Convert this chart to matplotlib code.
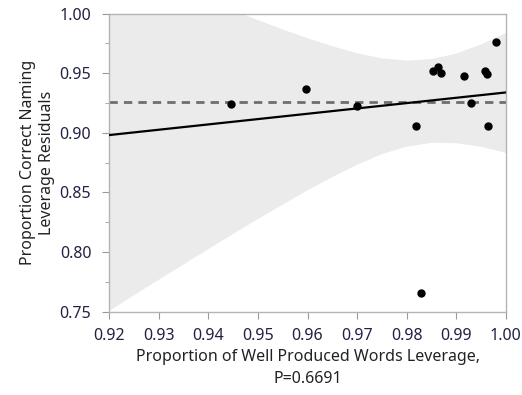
import matplotlib
matplotlib.use('Agg')
import matplotlib.pyplot as plt
from matplotlib.ticker import MultipleLocator

# Leverage plot values
x_vals = [0.9446, 0.9596, 0.9700, 0.9818, 0.9830, 0.9854, 0.9863, 0.9869,
          0.9915, 0.9929, 0.9958, 0.9962, 0.9964, 0.9980]
y_vals = [0.9240, 0.9369, 0.9224, 0.9053, 0.7654, 0.9517, 0.9553, 0.9503,
          0.9475, 0.9246, 0.9517, 0.9489, 0.9053, 0.9757]

# Fit line and mean line
fit_x = [0.92, 1.00]
fit_y = [0.8981, 0.9338]
mean_y = 0.9257

# Confidence band edges
band_x = [0.920, 0.925, 0.930, 0.935, 0.940, 0.945, 0.950, 0.955, 0.960,
          0.965, 0.970, 0.975, 0.980, 0.985, 0.990, 0.995, 1.000]
band_lo = [0.7514, 0.7645, 0.7775, 0.7903, 0.8032, 0.8159, 0.8283, 0.8405, 0.8524,
           0.8635, 0.8738, 0.8826, 0.8889, 0.8920, 0.8917, 0.8886, 0.8835]
band_hi = [1.0448, 1.0363, 1.0277, 1.0193, 1.0110, 1.0028, 0.9947, 0.9869, 0.9796,
           0.9729, 0.9670, 0.9628, 0.9609, 0.9622, 0.9669, 0.9746, 0.9841]

plt.rcParams['font.family'] = ['Noto Sans', 'DejaVu Sans']

fig = plt.figure(figsize=(5.22, 3.95), dpi=100)
ax = fig.add_axes([0.2094, 0.2109, 0.7594, 0.7549])

ax.fill_between(band_x, band_lo, band_hi, color='#ebebeb', linewidth=0, zorder=1)
ax.axhline(mean_y, color='#6e6e6e', linestyle=(0, (3, 2.2)), linewidth=2, zorder=2)
ax.plot(fit_x, fit_y, color='black', linewidth=1.6, zorder=3)
ax.plot(x_vals, y_vals, 'o', color='black', markersize=5, zorder=4)

ax.set_xlim(0.92, 1.00)
ax.set_ylim(0.75, 1.00)
ax.xaxis.set_major_locator(MultipleLocator(0.01))
ax.yaxis.set_major_locator(MultipleLocator(0.05))
ax.yaxis.set_minor_locator(MultipleLocator(0.025))
ax.xaxis.set_major_formatter(plt.FormatStrFormatter('%.2f'))
ax.yaxis.set_major_formatter(plt.FormatStrFormatter('%.2f'))

for s in ax.spines.values():
    s.set_color('#b4b4b4')
    s.set_linewidth(1)
ax.tick_params(which='both', color='#9a9a9a', labelsize=11.5, labelcolor='#222244')
ax.tick_params(which='major', length=5)
ax.tick_params(which='minor', length=3)
ax.tick_params(axis='x', pad=7)
ax.tick_params(axis='y', pad=8)

ax.set_xlabel('Proportion of Well Produced Words Leverage,\nP=0.6691',
              fontsize=11.5, color='#222222', labelpad=3, linespacing=1.55)
ax.set_ylabel('Proportion Correct Naming\nLeverage Residuals',
              fontsize=11.5, color='#222222', labelpad=3, linespacing=1.3)

fig.savefig('out.png', dpi=100)
